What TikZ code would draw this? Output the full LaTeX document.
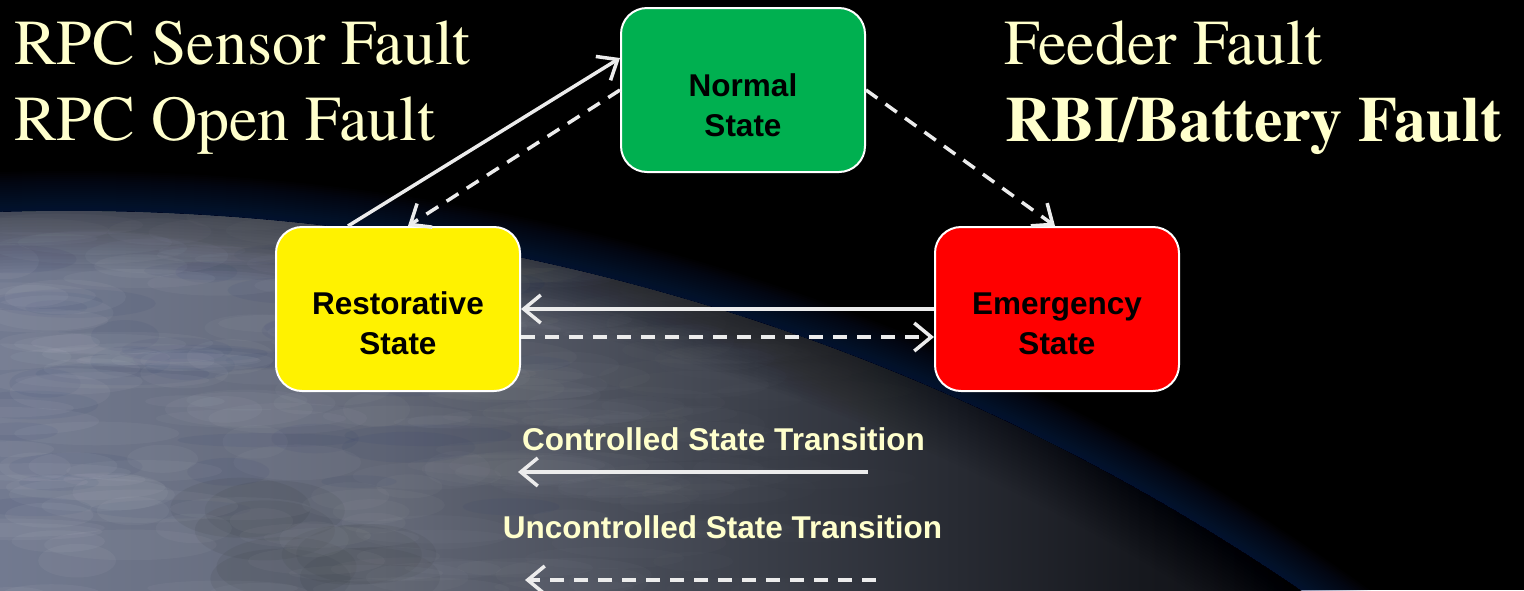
\documentclass[tikz,border=0pt]{standalone}
\usepackage{fontspec}
\setmainfont{TeX Gyre Termes}
\newfontfamily\timesf{TeX Gyre Termes}
\newfontfamily\arialf{Liberation Sans}
\usetikzlibrary{arrows.meta}
\definecolor{cream}{RGB}{255,255,204}
\definecolor{linec}{RGB}{236,236,236}
\definecolor{boxgreen}{RGB}{0,176,80}
\definecolor{glowc}{RGB}{30,45,100}
\definecolor{ea}{RGB}{114,122,144}
\definecolor{eb}{RGB}{98,103,118}
\definecolor{ec}{RGB}{58,62,72}
\definecolor{ed}{RGB}{22,24,30}
\definecolor{ee}{RGB}{5,5,7}
\definecolor{ocean}{RGB}{40,55,105}
\definecolor{landc}{RGB}{50,56,58}
\pgfdeclarehorizontalshading{earthsh}{100bp}{color(0bp)=(ea); color(25bp)=(ea); color(37.5bp)=(eb); color(50bp)=(ec); color(62.5bp)=(ed); color(75bp)=(ee); color(100bp)=(ee)}
\tikzset{
  statebox/.style={draw=white, line width=2pt, rounded corners=26pt,
    minimum width=244pt, minimum height=164pt, inner sep=0pt},
  boxtext/.style={font=\arialf\bfseries\fontsize{31.5}{40}\selectfont,
    align=center, text=black, inner sep=0pt},
  title/.style={font=\timesf\fontsize{64}{76}\selectfont, text=cream, inner sep=0pt, anchor=base west},
  legend/.style={font=\arialf\bfseries\fontsize{31.5}{38}\selectfont, text=cream, inner sep=0pt, anchor=base},
  ctl/.style={draw=linec, line width=3.5pt, -{Straight Barb[length=17pt,width=28pt]}},
  unc/.style={ctl, dash pattern=on 14pt off 10pt},
}
\begin{document}
\begin{tikzpicture}[x=1pt,y=-1pt]
\useasboundingbox (0,0) rectangle (1524,590);
\fill[black] (0,0) rectangle (1524,590);
% Earth background
\begin{scope}
  \clip (0,0) rectangle (1524,590);
  \foreach \k in {2,4,...,40} {
    \fill[glowc, opacity=0.035] (69,2399) circle (2188+\k);
  }
  \begin{scope}
    \clip (69,2399) circle (2188);
    \shade[shading=earthsh] (0,0) rectangle (1524,590);
    % cloud and surface texture
    \pgfmathsetseed{42}
    \foreach \i in {1,...,40} {
      \pgfmathsetmacro\rx{rnd*520}
      \pgfmathsetmacro\ry{250+rnd*260}
      \pgfmathsetmacro\ra{30+rnd*60}
      \pgfmathsetmacro\rb{6+rnd*10}
      \fill[ocean, opacity=0.08] (\rx,\ry) ellipse (\ra pt and \rb pt);
    }
    \foreach \i in {1,...,8} {
      \pgfmathsetmacro\rx{230+rnd*140}
      \pgfmathsetmacro\ry{500+rnd*80}
      \fill[landc, opacity=0.10] (\rx,\ry) ellipse (70pt and 30pt);
    }
    \foreach \i in {1,...,240} {
      \pgfmathsetmacro\rx{rnd*900}
      \pgfmathsetmacro\ry{215+rnd*380}
      \pgfmathsetmacro\ra{30+rnd*70}
      \pgfmathsetmacro\rb{6+rnd*12}
      \pgfmathsetmacro\op{max(0,0.045*(1-\rx/950))}
      \fill[white, opacity=\op] (\rx,\ry) ellipse (\ra pt and \rb pt);
    }
    \foreach \k in {3,6,...,60} {
      \fill[black, opacity=0.018, even odd rule] (69,2399) circle (2188) (69,2399) circle (2188-\k);
    }
  \end{scope}
\end{scope}
% titles
\node[title] (t1) at (14,64) {RPC Sensor Fault};
\node[title] (t2) at (14,140) {RPC Open Fault};
\node[title] (t3) at (1004,64) {Feeder Fault};
\node[title, font=\timesf\bfseries\fontsize{64}{76}\selectfont] (t4) at (1005,141) {RBI/Battery Fault};
% state boxes
\node[statebox, fill=boxgreen] (normal) at (743,90) {};
\node[statebox, fill=yellow] (restor) at (398,309) {};
\node[statebox, fill=red] (emerg) at (1057,309) {};
\node[boxtext] (normaltxt) at (743,105.5) {Normal\\State};
\node[boxtext] (restortxt) at (398,323.5) {Restorative\\State};
\node[boxtext] (emergtxt) at (1057,323.5) {Emergency\\State};
% transitions
\draw[ctl] ([xshift=-50pt]restor.north) -- ([yshift=32pt]normal.west);
\draw[unc] (normal.west) -- ([xshift=10pt]restor.north);
\draw[unc] (normal.east) -- ([xshift=-2pt]emerg.north);
\draw[ctl] (emerg.west) -- (restor.east);
\draw[unc] ([yshift=-28pt]restor.east) -- ([yshift=-28pt]emerg.west);
% legend
\node[legend] (lg1) at (723.5,450) {Controlled State Transition};
\node[legend] (lg2) at (722.5,538) {Uncontrolled State Transition};
\coordinate (c1s) at (868,472);
\coordinate (c1e) at (518,472);
\coordinate (c2s) at (876,580);
\coordinate (c2e) at (525,580);
\draw[ctl] (c1s) -- (c1e);
\draw[unc] (c2s) -- (c2e);
\end{tikzpicture}
\end{document}
